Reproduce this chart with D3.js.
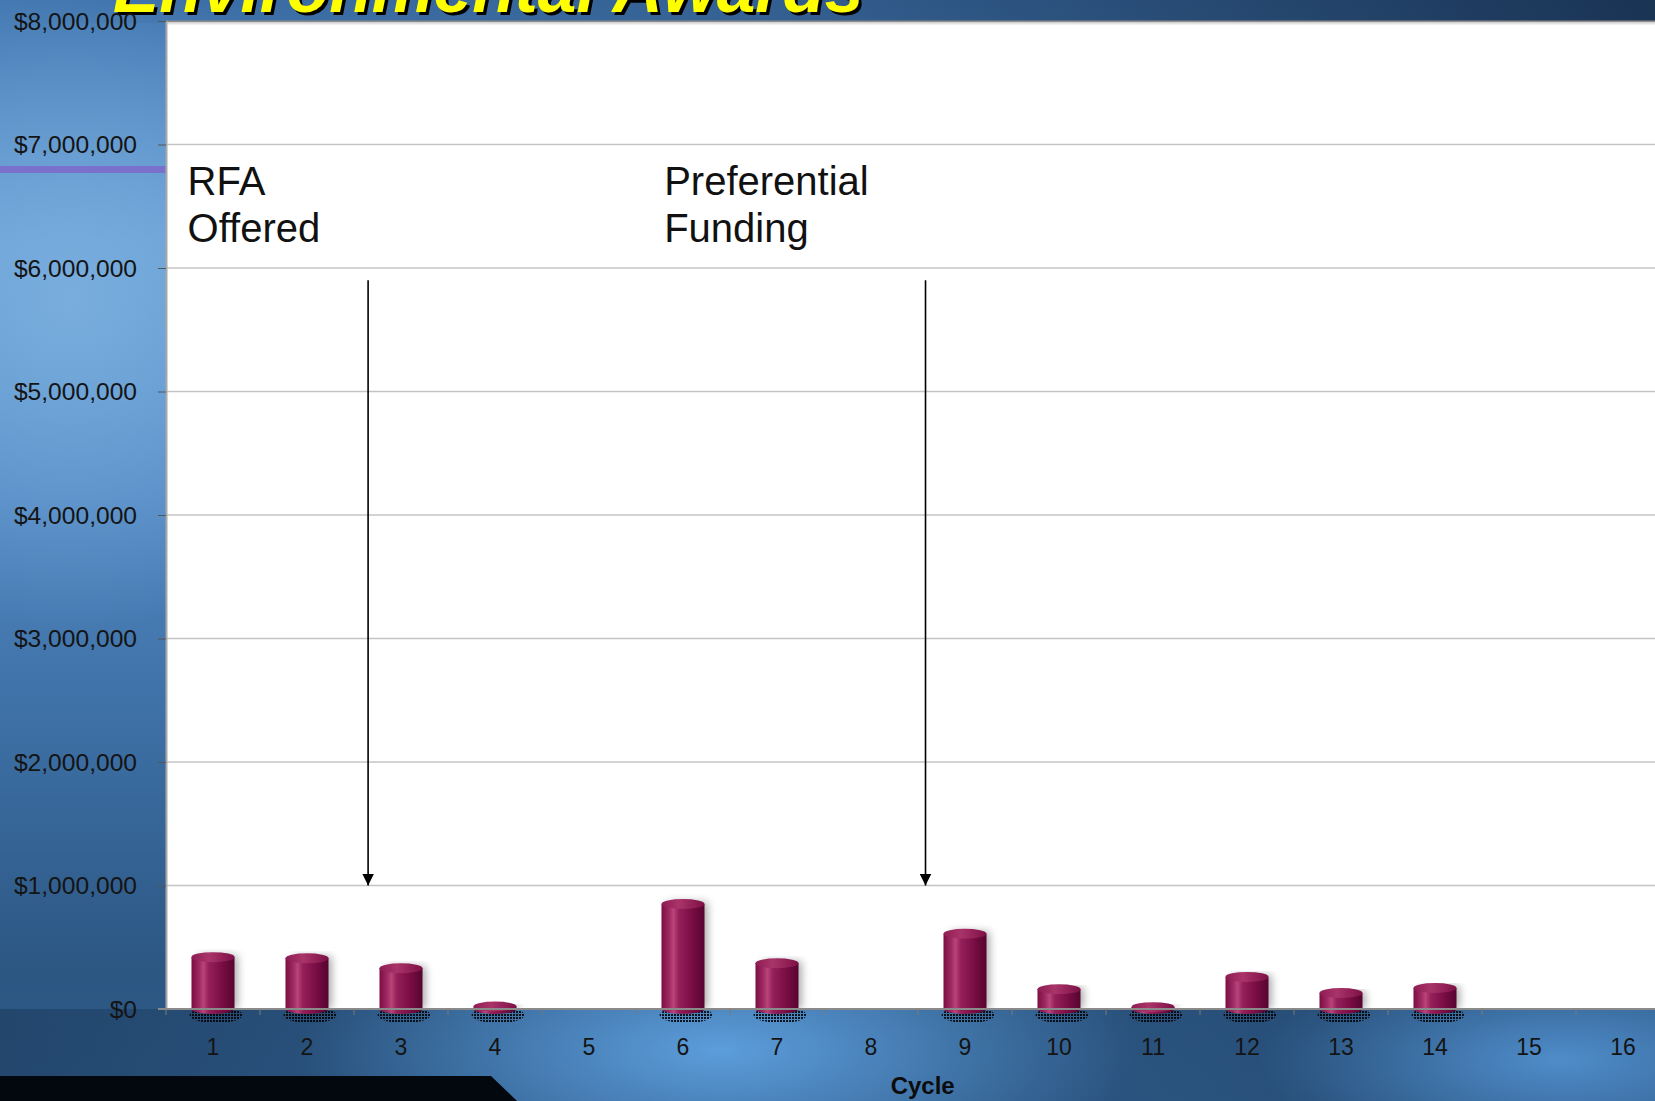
<!DOCTYPE html>
<html>
<head>
<meta charset="utf-8">
<script src="https://cdn.jsdelivr.net/npm/d3@7"></script>
<style>
  html, body { margin: 0; padding: 0; overflow: hidden; background: #3d72aa; }
  svg { display: block; }
</style>
</head>
<body>
<svg id="chart" width="1655" height="1101"></svg>
<script>
// Environmental awards per funding cycle (US dollars)
const cycles = ["1", "2", "3", "4", "5", "6", "7", "8", "9", "10", "11", "12", "13", "14", "15", "16"];
const awards = [420000, 410000, 330000, 20000, 0, 850000, 370000, 0, 610000, 160000, 15000, 260000, 130000, 170000, 0, 0];
const yTickValues = [0, 1000000, 2000000, 3000000, 4000000, 5000000, 6000000, 7000000, 8000000];
const titleText = "Environmental Awards";
const axisTitle = "Cycle";
const noteLines = [["RFA", "Offered"], ["Preferential", "Funding"]];

const W = 1655, H = 1101;
const plot = { left: 166, top: 21, bottom: 1009 };
const step = 94;

const svg = d3.select("#chart");
const defs = svg.append("defs");

// ---------- background gradients ----------
const base = defs.append("linearGradient").attr("id", "bgBase")
  .attr("x1", 0).attr("y1", 0).attr("x2", 0).attr("y2", 1);
[["0%", "#3f74ae"], ["22%", "#6199d0"], ["45%", "#4f86c0"], ["70%", "#3a6b9f"], ["88%", "#2c5783"], ["100%", "#2e5a88"]]
  .forEach(([o, c]) => base.append("stop").attr("offset", o).attr("stop-color", c));

const glowL = defs.append("radialGradient").attr("id", "glowL")
  .attr("gradientUnits", "userSpaceOnUse").attr("cx", 70).attr("cy", 300).attr("r", 330);
glowL.append("stop").attr("offset", "0%").attr("stop-color", "#7cb0e0").attr("stop-opacity", 0.9);
glowL.append("stop").attr("offset", "100%").attr("stop-color", "#7cb0e0").attr("stop-opacity", 0);

const glowB = defs.append("radialGradient").attr("id", "glowB")
  .attr("gradientUnits", "userSpaceOnUse").attr("cx", 720).attr("cy", 1050).attr("r", 420)
  .attr("gradientTransform", "translate(720,1050) scale(1,0.35) translate(-720,-1050)");
glowB.append("stop").attr("offset", "0%").attr("stop-color", "#5c9ddb").attr("stop-opacity", 1);
glowB.append("stop").attr("offset", "100%").attr("stop-color", "#5c9ddb").attr("stop-opacity", 0);

const glowB2 = defs.append("radialGradient").attr("id", "glowB2")
  .attr("gradientUnits", "userSpaceOnUse").attr("cx", 1560).attr("cy", 1060).attr("r", 300)
  .attr("gradientTransform", "translate(1560,1060) scale(1,0.35) translate(-1560,-1060)");
glowB2.append("stop").attr("offset", "0%").attr("stop-color", "#5393d2").attr("stop-opacity", 0.9);
glowB2.append("stop").attr("offset", "100%").attr("stop-color", "#5393d2").attr("stop-opacity", 0);

const topShade = defs.append("linearGradient").attr("id", "topShade")
  .attr("x1", 0).attr("y1", 0).attr("x2", 1).attr("y2", 0);
topShade.append("stop").attr("offset", "0%").attr("stop-color", "#10233d").attr("stop-opacity", 0);
topShade.append("stop").attr("offset", "45%").attr("stop-color", "#10233d").attr("stop-opacity", 0.25);
topShade.append("stop").attr("offset", "100%").attr("stop-color", "#10233d").attr("stop-opacity", 0.8);

const bottomDark = defs.append("linearGradient").attr("id", "bottomDark")
  .attr("x1", 0).attr("y1", 0).attr("x2", 1).attr("y2", 0);
bottomDark.append("stop").attr("offset", "0%").attr("stop-color", "#16304f").attr("stop-opacity", 0.45);
bottomDark.append("stop").attr("offset", "25%").attr("stop-color", "#16304f").attr("stop-opacity", 0.15);
bottomDark.append("stop").attr("offset", "45%").attr("stop-color", "#16304f").attr("stop-opacity", 0);
bottomDark.append("stop").attr("offset", "80%").attr("stop-color", "#16304f").attr("stop-opacity", 0.25);
bottomDark.append("stop").attr("offset", "100%").attr("stop-color", "#16304f").attr("stop-opacity", 0.05);

// cylinder shading
const cyl = defs.append("linearGradient").attr("id", "cyl")
  .attr("x1", 0).attr("y1", 0).attr("x2", 1).attr("y2", 0);
[["0%", "#7a0d42"], ["18%", "#a02a63"], ["28%", "#b84479"], ["40%", "#96205a"], ["70%", "#7a0e44"], ["100%", "#560430"]]
  .forEach(([o, c]) => cyl.append("stop").attr("offset", o).attr("stop-color", c));
const cylTop = defs.append("linearGradient").attr("id", "cylTop")
  .attr("x1", 0).attr("y1", 0).attr("x2", 1).attr("y2", 0);
[["0%", "#8e1c52"], ["40%", "#a9346a"], ["100%", "#7d1046"]]
  .forEach(([o, c]) => cylTop.append("stop").attr("offset", o).attr("stop-color", c));

const blur = defs.append("filter").attr("id", "soft")
  .attr("x", "-50%").attr("y", "-10%").attr("width", "200%").attr("height", "120%");
blur.append("feGaussianBlur").attr("stdDeviation", 4);

const dots = defs.append("pattern").attr("id", "dots")
  .attr("patternUnits", "userSpaceOnUse").attr("width", 3).attr("height", 3);
dots.append("rect").attr("width", 2).attr("height", 2).attr("fill", "#000");

// ---------- slide background ----------
svg.append("rect").attr("width", W).attr("height", H).attr("fill", "url(#bgBase)");
svg.append("rect").attr("width", W).attr("height", H).attr("fill", "url(#glowL)");
svg.append("rect").attr("y", plot.bottom).attr("width", W).attr("height", H - plot.bottom).attr("fill", "url(#bottomDark)");
svg.append("rect").attr("y", 960).attr("width", W).attr("height", H - 960).attr("fill", "url(#glowB)");
svg.append("rect").attr("y", 960).attr("width", W).attr("height", H - 960).attr("fill", "url(#glowB2)");
svg.append("rect").attr("width", W).attr("height", plot.top + 2).attr("fill", "url(#topShade)");

// dark footer band
svg.append("path")
  .attr("d", "M0,1076 L491,1076 L517,1101 L0,1101 Z")
  .attr("fill", "#03080f");

// accent rule on the left margin
svg.append("rect").attr("x", 0).attr("y", 166).attr("width", plot.left).attr("height", 7).attr("fill", "#7a71cd");

// ---------- scales ----------
const x = d3.scaleBand().domain(cycles).range([plot.left, plot.left + step * cycles.length]).paddingInner(0).paddingOuter(0);
const xc = v => plot.left + (v - 0.5) * x.step();   // continuous cycle position
const y = d3.scaleLinear().domain([0, 8000000]).range([plot.bottom, plot.top]);

// plot area
svg.append("rect")
  .attr("x", plot.left).attr("y", plot.top)
  .attr("width", W - plot.left).attr("height", plot.bottom - plot.top)
  .attr("fill", "#ffffff");

// title (runs off the top of the slide), yellow with a drop shadow
const title = svg.append("g").attr("font-family", "'Liberation Sans', Arial, sans-serif")
  .attr("font-size", 69.5).attr("font-weight", "bold").attr("font-style", "italic");
title.append("text").attr("x", 116).attr("y", 15).attr("fill", "#000").text(titleText);
title.append("text").attr("x", 113).attr("y", 12).attr("fill", "#ffff00").text(titleText);

// gridlines
svg.append("g")
  .selectAll("line").data(yTickValues.filter(v => v > 0 && v < 8000000)).join("line")
  .attr("x1", plot.left).attr("x2", W)
  .attr("y1", d => y(d)).attr("y2", d => y(d))
  .attr("stroke", "#c4c4c4").attr("stroke-width", 1.6);

// plot borders
svg.append("line").attr("x1", plot.left).attr("x2", W).attr("y1", plot.top + 0.5).attr("y2", plot.top + 0.5)
  .attr("stroke", "#8c8c8c").attr("stroke-width", 2);
svg.append("line").attr("x1", plot.left).attr("x2", W).attr("y1", plot.top + 2.5).attr("y2", plot.top + 2.5)
  .attr("stroke", "#e2e2e2").attr("stroke-width", 2);
svg.append("line").attr("x1", plot.left + 0.5).attr("x2", plot.left + 0.5).attr("y1", plot.top).attr("y2", plot.bottom)
  .attr("stroke", "#a8a8a8").attr("stroke-width", 2);

// y axis
const yAxis = d3.axisLeft(y).tickValues(yTickValues).tickSize(8).tickPadding(0)
  .tickFormat(d => "$" + d3.format(",")(d));
const yg = svg.append("g").attr("transform", `translate(${plot.left},0)`).call(yAxis);
yg.select(".domain").remove();
yg.selectAll(".tick line").attr("stroke", "#555").attr("stroke-width", 1);
yg.selectAll(".tick text")
  .attr("x", null).attr("dy", null)
  .attr("transform", "translate(-29,8) scale(1.07,1)")
  .attr("font-family", "'Liberation Sans', Arial, sans-serif")
  .attr("font-size", 23).attr("fill", "#141414").attr("text-anchor", "end");

// bars (3D cylinders)
const bw = 43, rx = bw / 2, ry = 5;
const data = cycles.map((c, i) => ({ c, v: awards[i] })).filter(d => d.v > 0);
const bars = svg.append("g").selectAll("g").data(data).join("g")
  .attr("transform", d => `translate(${x(d.c) + x.bandwidth() / 2},0)`);
const y0 = y(0);
bars.append("ellipse")
  .attr("cx", 3).attr("cy", y0 + 6).attr("rx", rx + 5).attr("ry", ry + 3)
  .attr("fill", "url(#dots)").attr("opacity", 0.85);
bars.append("rect")
  .attr("x", -rx + 7).attr("y", d => y(d.v) - 2).attr("width", bw - 4)
  .attr("height", d => y0 - y(d.v) + 2)
  .attr("fill", "#000").attr("opacity", 0.35).attr("filter", "url(#soft)");
bars.append("path")
  .attr("d", d => `M${-rx},${y(d.v)} L${-rx},${y0} A${rx},${ry} 0 0 0 ${rx},${y0} L${rx},${y(d.v)} Z`)
  .attr("fill", "url(#cyl)");
bars.append("ellipse")
  .attr("cx", 0).attr("cy", d => y(d.v)).attr("rx", rx).attr("ry", ry)
  .attr("fill", "url(#cylTop)");

// x axis
const xAxis = d3.axisBottom(x).tickSize(0).tickPadding(0);
const xg = svg.append("g").attr("transform", `translate(0,${plot.bottom})`).call(xAxis);
xg.select(".domain").remove();
xg.selectAll(".tick text")
  .attr("y", 46).attr("dy", null)
  .attr("font-family", "'Liberation Sans', Arial, sans-serif")
  .attr("font-size", 23).attr("fill", "#141414");
svg.append("line").attr("x1", plot.left - 8).attr("x2", W).attr("y1", plot.bottom).attr("y2", plot.bottom)
  .attr("stroke", "#8a8a8a").attr("stroke-width", 2);
svg.append("g").selectAll("line").data(d3.range(cycles.length)).join("line")
  .attr("x1", i => plot.left + i * x.step()).attr("x2", i => plot.left + i * x.step())
  .attr("y1", plot.bottom).attr("y2", plot.bottom + 6)
  .attr("stroke", "#7a7a7a").attr("stroke-width", 1);

svg.append("text")
  .attr("x", xc(8.55)).attr("y", 1094)
  .attr("text-anchor", "middle")
  .attr("font-family", "'Liberation Sans', Arial, sans-serif")
  .attr("font-size", 24).attr("font-weight", "bold").attr("fill", "#0c0c0c")
  .text(axisTitle);

// annotations
const notes = svg.append("g").attr("font-family", "'Liberation Sans', Arial, sans-serif")
  .attr("font-size", 40).attr("fill", "#111");
const noteX = [xc(0.73), xc(5.80)];
noteLines.forEach((lines, i) => {
  const t = notes.append("text").attr("x", noteX[i]).attr("y", 195);
  lines.forEach((s, j) => t.append("tspan").attr("x", noteX[i]).attr("dy", j === 0 ? 0 : 46.5).text(s));
});

defs.append("marker").attr("id", "arrowHead")
  .attr("viewBox", "0 0 10 10").attr("refX", 10).attr("refY", 5)
  .attr("markerWidth", 12).attr("markerHeight", 12).attr("markerUnits", "userSpaceOnUse")
  .attr("orient", "auto")
  .append("path").attr("d", "M0,0 L10,5 L0,10 Z").attr("fill", "#000");

[2.65, 8.58].forEach(v => {
  svg.append("line")
    .attr("x1", xc(v)).attr("x2", xc(v))
    .attr("y1", y(5900000)).attr("y2", y(1000000))
    .attr("stroke", "#000").attr("stroke-width", 1.6)
    .attr("marker-end", "url(#arrowHead)");
});
</script>
</body>
</html>
